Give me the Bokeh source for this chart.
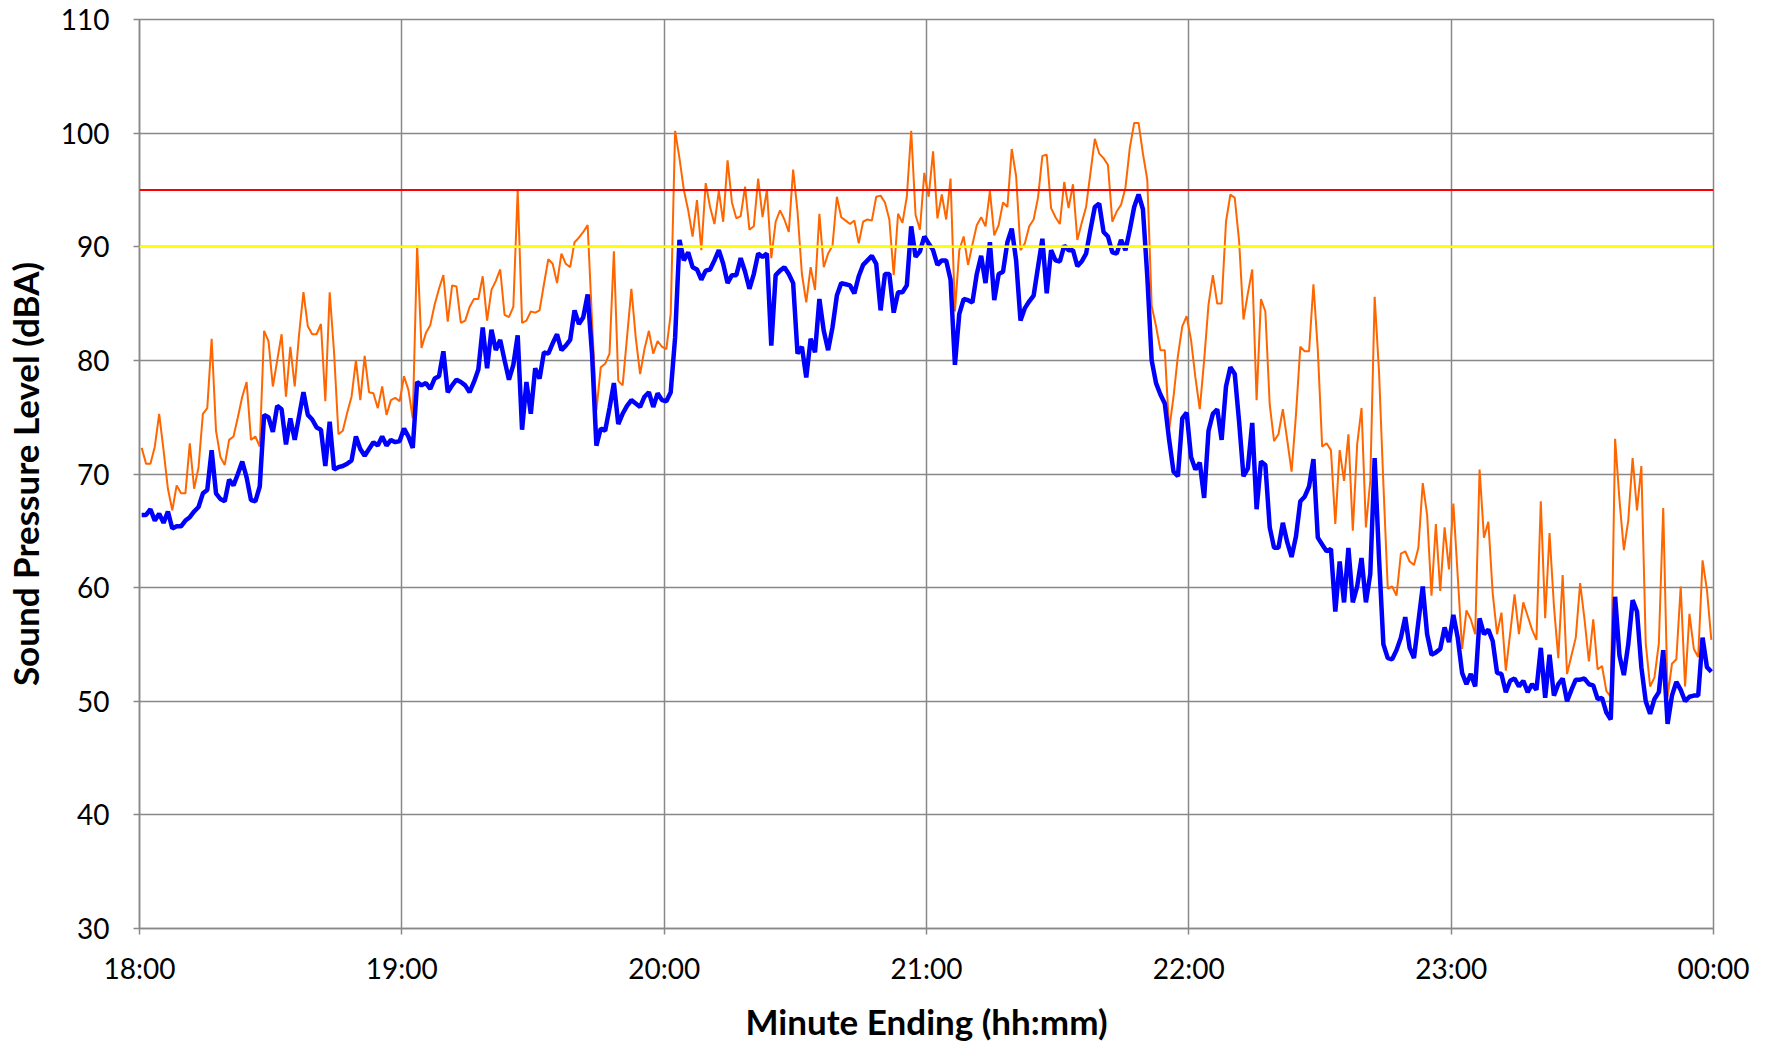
import numpy as np
from bokeh.plotting import figure
from bokeh.models import Range1d, FixedTicker, Span, ColumnDataSource
from bokeh.embed import file_html
from bokeh.resources import INLINE

# ---------------- data ----------------
hour_ticks = [0, 60, 120, 180, 240, 300, 360]
hour_labels = ["18:00", "19:00", "20:00", "21:00", "22:00", "23:00", "00:00"]
level_ticks = [30, 40, 50, 60, 70, 80, 90, 100, 110]

# one-minute maximum levels (orange), 18:01 ... 00:00
lmax = [
    72.3, 70.9, 70.9, 72.4, 75.3, 72.1, 68.7, 66.8, 69.0, 68.3,
    68.3, 72.7, 68.7, 70.6, 75.3, 75.8, 81.9, 73.8, 71.5, 70.8,
    73.0, 73.3, 75.0, 76.8, 78.1, 73.0, 73.3, 72.4, 82.6, 81.7,
    77.7, 80.0, 82.3, 76.8, 81.2, 77.7, 82.3, 86.0, 83.0, 82.3,
    82.3, 83.2, 76.4, 86.0, 80.7, 73.5, 73.8, 75.4, 76.8, 80.0,
    76.5, 80.4, 77.2, 77.1, 75.8, 77.7, 75.2, 76.5, 76.7, 76.4,
    78.6, 77.4, 74.9, 90.1, 81.1, 82.4, 83.1, 84.9, 86.3, 87.5,
    83.4, 86.6, 86.5, 83.3, 83.5, 84.7, 85.4, 85.4, 87.4, 83.5,
    86.2, 87.0, 88.0, 84.0, 83.8, 84.7, 95.0, 83.3, 83.5, 84.3,
    84.2, 84.4, 86.7, 88.9, 88.5, 86.8, 89.4, 88.5, 88.2, 90.4,
    90.8, 91.3, 91.9, 83.5, 75.6, 79.4, 79.7, 80.6, 89.6, 78.2,
    77.8, 82.0, 86.3, 82.0, 78.8, 81.0, 82.6, 80.6, 81.7, 81.2,
    81.0, 84.1, 100.2, 97.8, 95.0, 93.2, 90.9, 94.1, 89.7, 95.6,
    93.5, 92.0, 94.9, 92.2, 97.6, 93.9, 92.5, 92.7, 95.3, 91.5,
    91.8, 96.0, 92.6, 95.0, 89.0, 92.2, 93.2, 92.4, 91.3, 96.8,
    93.1, 87.6, 85.1, 88.2, 86.2, 92.9, 88.2, 89.4, 90.1, 94.4,
    92.6, 92.3, 92.0, 92.3, 90.3, 92.2, 92.4, 92.3, 94.4, 94.5,
    93.9, 92.4, 87.5, 92.9, 92.1, 94.4, 100.2, 92.8, 91.5, 96.5,
    94.4, 98.4, 92.5, 94.6, 92.4, 96.0, 84.3, 89.7, 90.9, 88.4,
    90.2, 91.9, 92.6, 91.8, 94.9, 91.0, 91.9, 93.9, 93.5, 98.6,
    96.2, 89.7, 90.3, 91.8, 92.4, 94.3, 98.0, 98.1, 93.4, 92.6,
    92.0, 95.7, 93.4, 95.5, 90.6, 92.1, 93.5, 96.5, 99.5, 98.2,
    97.8, 97.2, 92.2, 93.1, 93.7, 95.2, 98.7, 100.9, 100.9, 98.2,
    95.9, 84.8, 83.0, 80.9, 80.9, 73.9, 76.8, 80.4, 83.0, 83.9,
    81.8, 78.5, 75.7, 80.0, 84.9, 87.5, 85.0, 85.0, 92.2, 94.6,
    94.3, 90.5, 83.6, 85.9, 88.0, 76.5, 85.4, 84.3, 76.1, 72.9,
    73.5, 75.7, 73.0, 70.2, 75.2, 81.2, 80.8, 80.8, 86.7, 80.9,
    72.4, 72.7, 72.1, 65.6, 72.1, 69.4, 73.5, 65.0, 72.6, 75.8,
    65.3, 69.4, 85.6, 79.0, 69.1, 59.9, 60.1, 59.3, 63.0, 63.2,
    62.3, 62.0, 63.5, 69.2, 66.4, 59.3, 65.6, 59.7, 65.3, 61.6,
    67.4, 61.0, 54.6, 58.0, 57.2, 55.9, 70.4, 64.4, 65.8, 59.5,
    55.9, 57.8, 52.7, 56.0, 59.4, 55.9, 58.7, 57.5, 56.3, 55.4,
    67.6, 57.3, 64.8, 58.4, 53.8, 61.1, 52.4, 54.0, 55.6, 60.4,
    57.2, 53.5, 57.2, 52.8, 53.1, 50.9, 50.4, 73.1, 67.7, 63.3,
    65.9, 71.4, 66.8, 70.7, 55.1, 51.3, 52.1, 55.1, 67.0, 50.4,
    53.3, 53.7, 60.1, 51.3, 57.7, 54.6, 53.9, 62.4, 59.8, 55.4,
]

# one-minute equivalent levels (blue)
leq = [
    66.4, 66.4, 66.9, 65.9, 66.5, 65.7, 66.7, 65.2, 65.4, 65.4,
    65.9, 66.2, 66.7, 67.1, 68.3, 68.6, 72.1, 68.3, 67.8, 67.6,
    69.5, 69.0, 70.0, 71.1, 69.7, 67.7, 67.6, 68.9, 75.2, 75.0,
    73.7, 76.0, 75.7, 72.6, 74.9, 73.0, 75.1, 77.2, 75.2, 74.8,
    74.1, 73.9, 70.7, 74.6, 70.4, 70.6, 70.7, 70.9, 71.2, 73.3,
    72.2, 71.6, 72.2, 72.8, 72.5, 73.3, 72.5, 73.0, 72.8, 72.9,
    74.0, 73.3, 72.3, 78.1, 77.8, 78.0, 77.5, 78.4, 78.6, 80.8,
    77.2, 77.8, 78.3, 78.1, 77.8, 77.2, 78.1, 79.2, 82.9, 79.3,
    82.7, 80.9, 81.8, 80.0, 78.3, 79.6, 82.2, 73.9, 78.1, 75.3,
    79.3, 78.4, 80.7, 80.6, 81.5, 82.3, 80.9, 81.3, 81.8, 84.4,
    83.2, 83.8, 85.8, 80.6, 72.5, 74.0, 73.8, 75.8, 78.0, 74.4,
    75.3, 76.0, 76.5, 76.2, 75.9, 76.8, 77.2, 75.9, 77.1, 76.5,
    76.4, 77.2, 82.0, 90.6, 88.8, 89.5, 88.2, 88.0, 87.1, 87.9,
    88.0, 88.8, 89.7, 88.5, 86.8, 87.5, 87.5, 89.0, 87.8, 86.3,
    87.6, 89.4, 89.1, 89.4, 81.3, 87.5, 87.9, 88.2, 87.6, 86.8,
    80.6, 81.2, 78.5, 81.9, 80.7, 85.4, 82.6, 80.9, 82.9, 85.7,
    86.8, 86.7, 86.6, 85.9, 87.4, 88.4, 88.8, 89.2, 88.5, 84.4,
    87.6, 87.6, 84.2, 86.0, 86.0, 86.6, 91.8, 89.1, 89.6, 90.9,
    90.3, 89.7, 88.4, 88.8, 88.8, 87.1, 79.6, 84.1, 85.4, 85.3,
    85.1, 87.6, 89.2, 86.8, 90.4, 85.3, 87.6, 87.8, 90.4, 91.6,
    88.8, 83.5, 84.6, 85.2, 85.7, 88.2, 90.7, 85.9, 89.7, 88.8,
    88.7, 90.1, 89.7, 89.7, 88.3, 88.7, 89.4, 91.5, 93.5, 93.8,
    91.3, 90.9, 89.5, 89.4, 90.6, 89.7, 91.5, 93.5, 94.6, 93.3,
    87.4, 80.0, 78.0, 77.0, 76.2, 73.0, 70.2, 69.8, 74.9, 75.4,
    71.5, 70.4, 71.0, 67.9, 73.8, 75.3, 75.7, 73.0, 77.7, 79.4,
    78.8, 74.6, 69.8, 70.5, 74.5, 66.9, 71.1, 70.8, 65.3, 63.5,
    63.5, 65.7, 64.0, 62.7, 64.5, 67.6, 68.0, 68.9, 71.3, 64.4,
    63.8, 63.2, 63.4, 57.9, 62.3, 58.7, 63.5, 58.7, 60.1, 62.6,
    58.7, 61.2, 71.4, 62.6, 55.0, 53.8, 53.7, 54.5, 55.6, 57.4,
    54.7, 53.8, 57.0, 60.1, 55.9, 54.1, 54.3, 54.6, 56.5, 55.2,
    57.6, 55.6, 52.5, 51.5, 52.4, 51.3, 57.3, 55.9, 56.3, 55.3,
    52.5, 52.4, 50.8, 51.8, 52.0, 51.3, 51.8, 50.8, 51.5, 51.0,
    54.7, 50.3, 54.1, 50.5, 51.5, 52.0, 50.0, 51.0, 51.9, 51.9,
    52.0, 51.5, 51.4, 50.2, 50.3, 49.0, 48.4, 59.2, 54.0, 52.3,
    55.0, 58.9, 57.9, 53.0, 50.0, 48.9, 50.2, 50.8, 54.5, 48.0,
    50.5, 51.7, 51.0, 50.0, 50.4, 50.5, 50.5, 55.6, 53.0, 52.6,
]

limit_red = 95
limit_yellow = 90

minute_ending = np.arange(1, len(leq) + 1)   # 1 ... 360 minutes after 18:00
x_mid = minute_ending - 0.5                   # plotted at centre of each minute

src = ColumnDataSource(dict(x=x_mid, lmax=lmax, leq=leq))

# ---------------- figure ----------------
FONT = "Lato"
GRID = "#888888"

p = figure(width=1767, height=1044, output_backend="svg", toolbar_location=None,
           x_range=Range1d(hour_ticks[0], hour_ticks[-1]),
           y_range=Range1d(level_ticks[0], level_ticks[-1]),
           min_border_left=137, min_border_right=54, min_border_top=19,
           min_border_bottom=112)
p.background_fill_color = "white"
p.border_fill_color = "white"
p.outline_line_color = GRID
p.outline_line_width = 1.5

for ax in (p.xaxis[0], p.yaxis[0]):
    ax.axis_line_color = GRID
    ax.axis_line_width = 1.5
    ax.major_tick_line_color = GRID
    ax.major_tick_line_width = 1.5
    ax.major_tick_in = 0
    ax.major_tick_out = 6
    ax.minor_tick_line_color = None
    ax.major_label_text_font = FONT
    ax.major_label_text_font_size = "28px"
    ax.major_label_text_color = "black"
    ax.axis_label_text_font = FONT
    ax.axis_label_text_font_size = "35px"
    ax.axis_label_text_font_style = "bold"
    ax.axis_label_text_color = "black"

p.xaxis.ticker = FixedTicker(ticks=hour_ticks)
p.xaxis.major_label_overrides = {t: l for t, l in zip(hour_ticks, hour_labels)}
p.xaxis.major_label_standoff = 16
p.xaxis.axis_label = "Minute Ending (hh:mm)"
p.xaxis.axis_label_standoff = 12

p.yaxis.ticker = FixedTicker(ticks=level_ticks)
p.yaxis.major_label_standoff = 24
p.yaxis.axis_label = "Sound Pressure Level (dBA)"
p.yaxis.axis_label_standoff = 12

p.xgrid.ticker = FixedTicker(ticks=hour_ticks)
p.ygrid.ticker = FixedTicker(ticks=level_ticks)
for g in (p.xgrid[0], p.ygrid[0]):
    g.grid_line_color = GRID
    g.grid_line_width = 1.5

p.add_layout(Span(location=limit_yellow, dimension="width", line_color="#FFFF00", line_width=2.5))
p.add_layout(Span(location=limit_red, dimension="width", line_color="#FF0000", line_width=2))

p.line("x", "lmax", source=src, line_color="#FF6600", line_width=2)
p.line("x", "leq", source=src, line_color="#0000FF", line_width=4.5)

open("out.html", "w").write(file_html(p, INLINE))
